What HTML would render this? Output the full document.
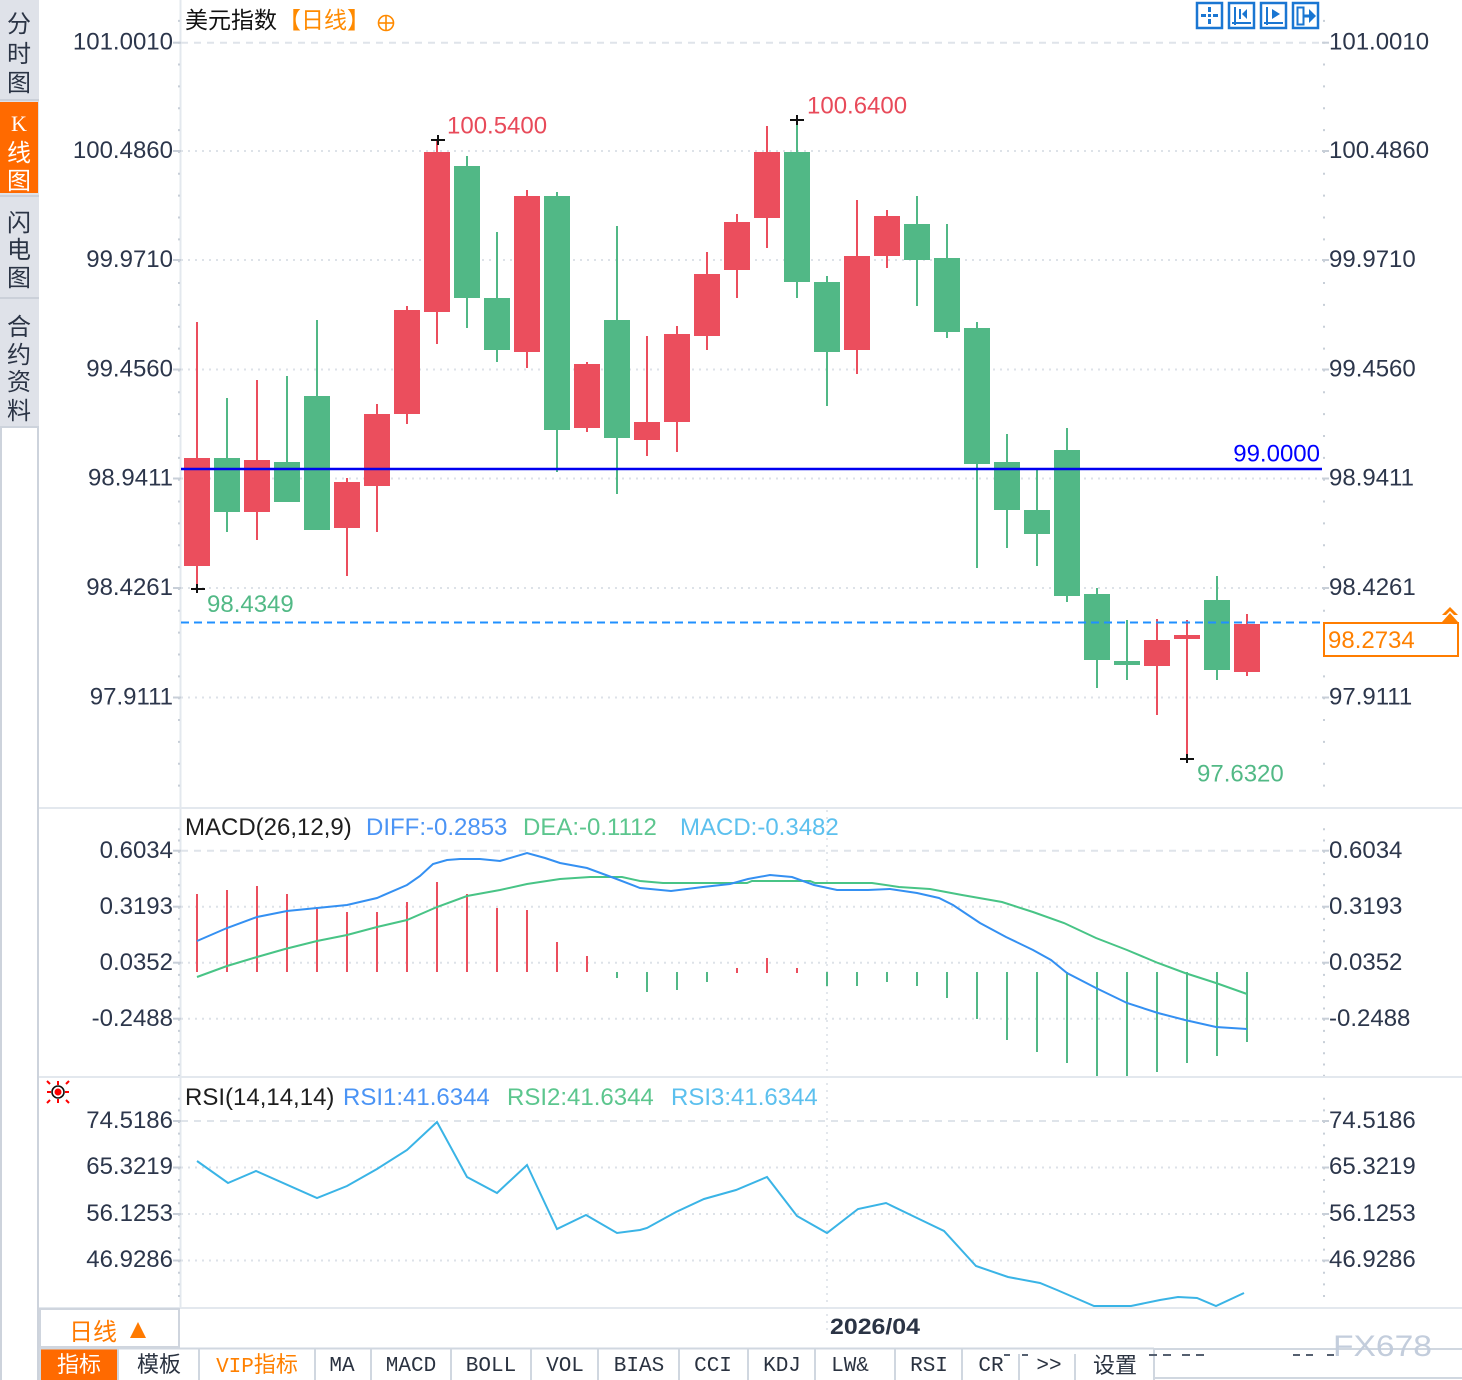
<!DOCTYPE html>
<html>
<head>
<meta charset="utf-8">
<style>
html,body{margin:0;padding:0;background:#fff;}
body{width:1462px;height:1380px;overflow:hidden;position:relative;}
svg{position:absolute;left:0;top:0;}
.ax{font-family:"Liberation Sans","Noto Sans CJK SC",sans-serif;font-size:24px;fill:#2c364b;}
.cj{font-family:"Liberation Sans","Noto Sans CJK SC",sans-serif;}
.mono{font-family:"Liberation Mono","Noto Sans CJK SC",monospace;font-size:21px;fill:#2a3240;}
</style>
</head>
<body>
<svg width="1462" height="1380" viewBox="0 0 1462 1380" xmlns="http://www.w3.org/2000/svg">
<rect x="0" y="0" width="1462" height="1380" fill="#fff"/>

<!-- Sidebar -->
<rect x="0" y="0" width="39" height="427" fill="#dfe2e9"/>
<rect x="0" y="102" width="38" height="91" fill="#ff6a00"/>
<line x1="0" y1="100" x2="39" y2="100" stroke="#cbd0d9" stroke-width="2"/>
<line x1="0" y1="196" x2="39" y2="196" stroke="#cbd0d9" stroke-width="2"/>
<line x1="0" y1="298" x2="39" y2="298" stroke="#cbd0d9" stroke-width="2"/>
<rect x="1" y="427" width="37" height="955" fill="#fff" stroke="#cdd3dc" stroke-width="2"/>
<g class="cj" font-size="24" fill="#2b3445" text-anchor="middle">
<text x="19" y="32">分</text>
<text x="19" y="62">时</text>
<text x="19" y="91">图</text>
<text x="19" y="131" fill="#fff" font-family="Liberation Serif, serif" font-size="22">K</text>
<text x="19" y="161" fill="#fff">线</text>
<text x="19" y="189" fill="#fff">图</text>
<text x="19" y="231">闪</text>
<text x="19" y="258">电</text>
<text x="19" y="286">图</text>
<text x="19" y="335">合</text>
<text x="19" y="363">约</text>
<text x="19" y="390">资</text>
<text x="19" y="419">料</text>
</g>

<!-- Frame lines -->
<line x1="180.5" y1="0" x2="180.5" y2="1308" stroke="#e3e8ee" stroke-width="2"/>
<line x1="39" y1="808" x2="1462" y2="808" stroke="#e3e8ee" stroke-width="2"/>
<line x1="39" y1="1077" x2="1462" y2="1077" stroke="#e3e8ee" stroke-width="2"/>
<line x1="39" y1="1308" x2="1462" y2="1308" stroke="#e3e8ee" stroke-width="2"/>

<!-- Vertical time grid -->
<line x1="827" y1="810" x2="827" y2="1332" stroke="#e3e7ec" stroke-width="2" stroke-dasharray="2 5"/>

<!-- Main gridlines -->
<line x1="181" y1="42.7" x2="1322" y2="42.7" stroke="#dfe4ea" stroke-width="2" stroke-dasharray="7 6"/>
<g stroke="#dde2e8" stroke-width="2" stroke-dasharray="2 5">
<line x1="181" y1="151" x2="1322" y2="151"/>
<line x1="181" y1="260" x2="1322" y2="260"/>
<line x1="181" y1="369.5" x2="1322" y2="369.5"/>
<line x1="181" y1="478.5" x2="1322" y2="478.5"/>
<line x1="181" y1="588" x2="1322" y2="588"/>
<line x1="181" y1="697.5" x2="1322" y2="697.5"/>
</g>
<!-- ticks main -->
<line x1="179" y1="19.85" x2="179" y2="806" stroke="#c8cfd8" stroke-width="2" stroke-dasharray="2 19.85"/>
<line x1="1324" y1="19.85" x2="1324" y2="806" stroke="#c8cfd8" stroke-width="2" stroke-dasharray="2 19.85"/>
<g stroke="#c8cfd8" stroke-width="2">
<line x1="173" y1="42.7" x2="181" y2="42.7"/><line x1="173" y1="151" x2="181" y2="151"/><line x1="173" y1="260" x2="181" y2="260"/><line x1="173" y1="369.5" x2="181" y2="369.5"/><line x1="173" y1="478.5" x2="181" y2="478.5"/><line x1="173" y1="588" x2="181" y2="588"/><line x1="173" y1="697.5" x2="181" y2="697.5"/>
<line x1="1322" y1="42.7" x2="1329" y2="42.7"/><line x1="1322" y1="151" x2="1329" y2="151"/><line x1="1322" y1="260" x2="1329" y2="260"/><line x1="1322" y1="369.5" x2="1329" y2="369.5"/><line x1="1322" y1="478.5" x2="1329" y2="478.5"/><line x1="1322" y1="588" x2="1329" y2="588"/><line x1="1322" y1="697.5" x2="1329" y2="697.5"/>
</g>

<!-- Main axis labels -->
<g class="ax" text-anchor="end">
<text x="173" y="49.5">101.0010</text>
<text x="173" y="158">100.4860</text>
<text x="173" y="267">99.9710</text>
<text x="173" y="376.5">99.4560</text>
<text x="173" y="485.5">98.9411</text>
<text x="173" y="595">98.4261</text>
<text x="173" y="704.5">97.9111</text>
</g>
<g class="ax">
<text x="1329" y="49.5">101.0010</text>
<text x="1329" y="158">100.4860</text>
<text x="1329" y="267">99.9710</text>
<text x="1329" y="376.5">99.4560</text>
<text x="1329" y="485.5">98.9411</text>
<text x="1329" y="595">98.4261</text>
<text x="1329" y="704.5">97.9111</text>
</g>

<!-- Title -->
<text x="185" y="28" class="cj" font-size="23" fill="#111">美元指数</text>
<text x="278" y="28" class="cj" font-size="23" fill="#ff8a00">【日线】</text>
<g stroke="#ff8a00" stroke-width="1.6" fill="none">
<circle cx="386" cy="23" r="7.5"/>
<line x1="378.5" y1="23" x2="393.5" y2="23"/>
<line x1="386" y1="15.5" x2="386" y2="30.5"/>
</g>

<!-- Top-right icons -->
<g stroke="#1a76d2" stroke-width="2.5" fill="none">
<rect x="1197" y="3" width="25" height="25"/>
<rect x="1229" y="3" width="25" height="25"/>
<rect x="1261" y="3" width="25" height="25"/>
<rect x="1293" y="3" width="25" height="25"/>
</g>
<g fill="#1a76d2">
<rect x="1201" y="14" width="5" height="3"/><rect x="1213" y="14" width="5" height="3"/><rect x="1208" y="7" width="3" height="5"/><rect x="1208" y="19" width="3" height="5"/><rect x="1208" y="14" width="3" height="3"/>
<rect x="1234" y="7" width="2" height="18"/><rect x="1232" y="22" width="19" height="2"/><rect x="1239" y="9" width="2" height="10"/><polygon points="1247,9 1242,14 1247,19"/>
<rect x="1266" y="7" width="2" height="18"/><rect x="1264" y="22" width="19" height="2"/><polygon points="1272,9 1280,14 1272,19"/>
<rect x="1304" y="14.5" width="7" height="3"/><polygon points="1309,9 1316,16 1309,23"/>
</g>
<rect x="1297.5" y="7.5" width="6" height="17" fill="none" stroke="#1a76d2" stroke-width="2"/>

<!-- Candles -->
<g stroke-width="2">
<g stroke="#eb4e5d" fill="#eb4e5d">
<line x1="197" y1="322" x2="197" y2="589"/><rect x="184" y="458" width="26" height="108" stroke="none"/>
<line x1="257" y1="380" x2="257" y2="540"/><rect x="244" y="460" width="26" height="52" stroke="none"/>
<line x1="347" y1="478" x2="347" y2="576"/><rect x="334" y="482" width="26" height="46" stroke="none"/>
<line x1="377" y1="404" x2="377" y2="532"/><rect x="364" y="414" width="26" height="72" stroke="none"/>
<line x1="407" y1="306" x2="407" y2="424"/><rect x="394" y="310" width="26" height="104" stroke="none"/>
<line x1="437" y1="140" x2="437" y2="344"/><rect x="424" y="152" width="26" height="160" stroke="none"/>
<line x1="527" y1="190" x2="527" y2="368"/><rect x="514" y="196" width="26" height="156" stroke="none"/>
<line x1="587" y1="362" x2="587" y2="432"/><rect x="574" y="364" width="26" height="64" stroke="none"/>
<line x1="647" y1="336" x2="647" y2="456"/><rect x="634" y="422" width="26" height="18" stroke="none"/>
<line x1="677" y1="326" x2="677" y2="452"/><rect x="664" y="334" width="26" height="88" stroke="none"/>
<line x1="707" y1="252" x2="707" y2="350"/><rect x="694" y="274" width="26" height="62" stroke="none"/>
<line x1="737" y1="214" x2="737" y2="298"/><rect x="724" y="222" width="26" height="48" stroke="none"/>
<line x1="767" y1="126" x2="767" y2="248"/><rect x="754" y="152" width="26" height="66" stroke="none"/>
<line x1="857" y1="200" x2="857" y2="374"/><rect x="844" y="256" width="26" height="94" stroke="none"/>
<line x1="887" y1="210" x2="887" y2="268"/><rect x="874" y="216" width="26" height="40" stroke="none"/>
<line x1="1157" y1="619" x2="1157" y2="715"/><rect x="1144" y="640" width="26" height="26" stroke="none"/>
<line x1="1187" y1="620" x2="1187" y2="759"/><rect x="1174" y="635" width="26" height="4" stroke="none"/>
<line x1="1247" y1="614" x2="1247" y2="676"/><rect x="1234" y="624" width="26" height="48" stroke="none"/>
</g>
<g stroke="#51b886" fill="#51b886">
<line x1="227" y1="398" x2="227" y2="532"/><rect x="214" y="458" width="26" height="54" stroke="none"/>
<line x1="287" y1="376" x2="287" y2="502"/><rect x="274" y="462" width="26" height="40" stroke="none"/>
<line x1="317" y1="320" x2="317" y2="530"/><rect x="304" y="396" width="26" height="134" stroke="none"/>
<line x1="467" y1="156" x2="467" y2="328"/><rect x="454" y="166" width="26" height="132" stroke="none"/>
<line x1="497" y1="232" x2="497" y2="362"/><rect x="484" y="298" width="26" height="52" stroke="none"/>
<line x1="557" y1="192" x2="557" y2="472"/><rect x="544" y="196" width="26" height="234" stroke="none"/>
<line x1="617" y1="226" x2="617" y2="494"/><rect x="604" y="320" width="26" height="118" stroke="none"/>
<line x1="797" y1="120" x2="797" y2="298"/><rect x="784" y="152" width="26" height="130" stroke="none"/>
<line x1="827" y1="276" x2="827" y2="406"/><rect x="814" y="282" width="26" height="70" stroke="none"/>
<line x1="917" y1="196" x2="917" y2="306"/><rect x="904" y="224" width="26" height="36" stroke="none"/>
<line x1="947" y1="224" x2="947" y2="338"/><rect x="934" y="258" width="26" height="74" stroke="none"/>
<line x1="977" y1="322" x2="977" y2="568"/><rect x="964" y="328" width="26" height="136" stroke="none"/>
<line x1="1007" y1="434" x2="1007" y2="548"/><rect x="994" y="462" width="26" height="48" stroke="none"/>
<line x1="1037" y1="468" x2="1037" y2="566"/><rect x="1024" y="510" width="26" height="24" stroke="none"/>
<line x1="1067" y1="428" x2="1067" y2="602"/><rect x="1054" y="450" width="26" height="146" stroke="none"/>
<line x1="1097" y1="588" x2="1097" y2="688"/><rect x="1084" y="594" width="26" height="66" stroke="none"/>
<line x1="1127" y1="620" x2="1127" y2="680"/><rect x="1114" y="661" width="26" height="4" stroke="none"/>
<line x1="1217" y1="576" x2="1217" y2="680"/><rect x="1204" y="600" width="26" height="70" stroke="none"/>
</g>
</g>

<!-- crosshair markers -->
<g stroke="#111" stroke-width="2">
<line x1="191" y1="589" x2="205" y2="589"/><line x1="197" y1="584" x2="197" y2="593"/>
<line x1="431" y1="140" x2="445" y2="140"/><line x1="438" y1="135" x2="438" y2="145"/>
<line x1="790" y1="120" x2="804" y2="120"/><line x1="797" y1="115" x2="797" y2="125"/>
<line x1="1180" y1="759" x2="1194" y2="759"/><line x1="1187" y1="754" x2="1187" y2="763"/>
</g>
<g class="ax">
<text x="447" y="133.5" style="fill:#e84a5a">100.5400</text>
<text x="807" y="113.5" style="fill:#e84a5a">100.6400</text>
<text x="207" y="612" style="fill:#52b986">98.4349</text>
<text x="1197" y="781.5" style="fill:#52b986">97.6320</text>
</g>

<!-- 99.0000 line -->
<line x1="181" y1="469" x2="1322" y2="469" stroke="#0000f0" stroke-width="2.5"/>
<text x="1320" y="461.5" class="ax" text-anchor="end" style="fill:#0000ff">99.0000</text>

<!-- current price -->
<line x1="181" y1="622.5" x2="1322" y2="622.5" stroke="#2090ff" stroke-width="2" stroke-dasharray="8 5"/>
<rect x="1324" y="623" width="134" height="33" fill="#fff" stroke="#ff7d00" stroke-width="2"/>
<text x="1328" y="648" class="ax" style="fill:#ff8000">98.2734</text>
<g fill="#ff8000">
<polygon points="1442,615 1450,607 1458,615 1454,615 1450,611 1446,615"/>
<polygon points="1442,622 1450,613 1458,622"/>
</g>

<!-- MACD panel -->
<line x1="181" y1="850.7" x2="1322" y2="850.7" stroke="#dfe4ea" stroke-width="2" stroke-dasharray="7 6"/>
<g stroke="#dde2e8" stroke-width="2" stroke-dasharray="2 5">
<line x1="181" y1="906.7" x2="1322" y2="906.7"/>
<line x1="181" y1="962.7" x2="1322" y2="962.7"/>
<line x1="181" y1="1018.7" x2="1322" y2="1018.7"/>
</g>
<line x1="179" y1="828.3" x2="179" y2="1076" stroke="#c8cfd8" stroke-width="2" stroke-dasharray="2 9.2"/>
<line x1="1324" y1="828.3" x2="1324" y2="1076" stroke="#c8cfd8" stroke-width="2" stroke-dasharray="2 9.2"/>
<g stroke="#c8cfd8" stroke-width="2">
<line x1="173" y1="850.7" x2="181" y2="850.7"/><line x1="173" y1="906.7" x2="181" y2="906.7"/><line x1="173" y1="962.7" x2="181" y2="962.7"/><line x1="173" y1="1018.7" x2="181" y2="1018.7"/>
<line x1="1322" y1="850.7" x2="1329" y2="850.7"/><line x1="1322" y1="906.7" x2="1329" y2="906.7"/><line x1="1322" y1="962.7" x2="1329" y2="962.7"/><line x1="1322" y1="1018.7" x2="1329" y2="1018.7"/>
</g>
<g class="ax" text-anchor="end">
<text x="173" y="858">0.6034</text>
<text x="173" y="914">0.3193</text>
<text x="173" y="970">0.0352</text>
<text x="173" y="1026">-0.2488</text>
</g>
<g class="ax">
<text x="1329" y="858">0.6034</text>
<text x="1329" y="914">0.3193</text>
<text x="1329" y="970">0.0352</text>
<text x="1329" y="1026">-0.2488</text>
</g>
<g class="ax">
<text x="185" y="835" style="fill:#1e1e1e">MACD(26,12,9)</text>
<text x="366" y="835" style="fill:#4b94f5">DIFF:-0.2853</text>
<text x="523" y="835" style="fill:#5cc68e">DEA:-0.1112</text>
<text x="680" y="835" style="fill:#5cc0ee">MACD:-0.3482</text>
</g>
<!-- MACD bars -->
<g stroke-width="2">
<g stroke="#eb4e5d">
<line x1="197" y1="972" x2="197" y2="894"/><line x1="227" y1="972" x2="227" y2="890"/><line x1="257" y1="972" x2="257" y2="886"/><line x1="287" y1="972" x2="287" y2="894"/><line x1="317" y1="972" x2="317" y2="907"/><line x1="347" y1="972" x2="347" y2="912"/><line x1="377" y1="972" x2="377" y2="912"/><line x1="407" y1="972" x2="407" y2="902"/><line x1="437" y1="972" x2="437" y2="882"/><line x1="467" y1="972" x2="467" y2="894"/><line x1="497" y1="972" x2="497" y2="908"/><line x1="527" y1="972" x2="527" y2="910"/><line x1="557" y1="972" x2="557" y2="942"/><line x1="587" y1="972" x2="587" y2="956"/><line x1="737" y1="973" x2="737" y2="968"/><line x1="767" y1="973" x2="767" y2="958"/><line x1="797" y1="973" x2="797" y2="968"/>
</g>
<g stroke="#51b886">
<line x1="617" y1="972" x2="617" y2="978"/><line x1="647" y1="972" x2="647" y2="992"/><line x1="677" y1="972" x2="677" y2="990"/><line x1="707" y1="972" x2="707" y2="982"/><line x1="827" y1="972" x2="827" y2="986"/><line x1="857" y1="972" x2="857" y2="986"/><line x1="887" y1="972" x2="887" y2="982"/><line x1="917" y1="972" x2="917" y2="986"/><line x1="947" y1="972" x2="947" y2="998"/><line x1="977" y1="972" x2="977" y2="1019"/><line x1="1007" y1="972" x2="1007" y2="1040"/><line x1="1037" y1="972" x2="1037" y2="1052"/><line x1="1067" y1="972" x2="1067" y2="1063"/><line x1="1097" y1="972" x2="1097" y2="1076"/><line x1="1127" y1="972" x2="1127" y2="1076"/><line x1="1157" y1="972" x2="1157" y2="1072"/><line x1="1187" y1="972" x2="1187" y2="1063"/><line x1="1217" y1="972" x2="1217" y2="1056"/><line x1="1247" y1="972" x2="1247" y2="1042"/>
</g>
</g>
<polyline fill="none" stroke="#48c486" stroke-width="2" points="197,977 227,966 257,957 285,949 317,941 347,935 377,927 407,920 437,907 467,896 500,890 527,884 560,879 590,877 622,877 640,881 663,883 747,883 752,881 810,881 815,883 872,883 899,887 930,889 962,895 1002,902 1033,912 1064,923 1096,938 1127,950 1158,963 1185,973 1216,983 1247,994"/>
<polyline fill="none" stroke="#3490f2" stroke-width="2" points="197,941 227,928 257,917 287,911 317,908 347,905 377,898 407,885 420,876 433,864 447,860 460,859 480,859 500,861 527,853 545,858 560,863 587,868 614,878 640,888 671,891 703,887 730,884 748,879 770,875 792,877 814,885 837,890 868,890 890,889 917,893 939,898 953,905 980,923 1006,937 1033,950 1051,960 1067,973 1096,988 1127,1003 1158,1013 1185,1020 1216,1027 1247,1029"/>

<!-- RSI panel -->
<g>
<line x1="51" y1="1092" x2="47" y2="1092" stroke="#f00" stroke-width="2"/>
<line x1="65" y1="1092" x2="69" y2="1092" stroke="#f00" stroke-width="2"/>
<line x1="58" y1="1085" x2="58" y2="1081" stroke="#f00" stroke-width="2"/>
<line x1="58" y1="1099" x2="58" y2="1103" stroke="#f00" stroke-width="2"/>
<line x1="50" y1="1084" x2="47" y2="1081" stroke="#f00" stroke-width="2"/>
<line x1="66" y1="1084" x2="69" y2="1081" stroke="#f00" stroke-width="2"/>
<line x1="50" y1="1100" x2="47" y2="1103" stroke="#f00" stroke-width="2"/>
<line x1="66" y1="1100" x2="69" y2="1103" stroke="#f00" stroke-width="2"/>
<circle cx="58" cy="1092" r="6" fill="#fff" stroke="#111" stroke-width="1.6"/>
<circle cx="58" cy="1092" r="3.5" fill="#f00"/>
</g>
<line x1="181" y1="1121" x2="1322" y2="1121" stroke="#dfe4ea" stroke-width="2" stroke-dasharray="7 6"/>
<g stroke="#dde2e8" stroke-width="2" stroke-dasharray="2 5">
<line x1="181" y1="1167.5" x2="1322" y2="1167.5"/>
<line x1="181" y1="1214" x2="1322" y2="1214"/>
<line x1="181" y1="1260.5" x2="1322" y2="1260.5"/>
</g>
<line x1="179" y1="1097.8" x2="179" y2="1306" stroke="#c8cfd8" stroke-width="2" stroke-dasharray="2 9.6"/>
<line x1="1324" y1="1097.8" x2="1324" y2="1306" stroke="#c8cfd8" stroke-width="2" stroke-dasharray="2 9.6"/>
<g stroke="#c8cfd8" stroke-width="2">
<line x1="173" y1="1121" x2="181" y2="1121"/><line x1="173" y1="1167.5" x2="181" y2="1167.5"/><line x1="173" y1="1214" x2="181" y2="1214"/><line x1="173" y1="1260.5" x2="181" y2="1260.5"/>
<line x1="1322" y1="1121" x2="1329" y2="1121"/><line x1="1322" y1="1167.5" x2="1329" y2="1167.5"/><line x1="1322" y1="1214" x2="1329" y2="1214"/><line x1="1322" y1="1260.5" x2="1329" y2="1260.5"/>
</g>
<g class="ax" text-anchor="end">
<text x="173" y="1128">74.5186</text>
<text x="173" y="1174">65.3219</text>
<text x="173" y="1221">56.1253</text>
<text x="173" y="1267">46.9286</text>
</g>
<g class="ax">
<text x="1329" y="1128">74.5186</text>
<text x="1329" y="1174">65.3219</text>
<text x="1329" y="1221">56.1253</text>
<text x="1329" y="1267">46.9286</text>
</g>
<g class="ax">
<text x="185" y="1105" style="fill:#1e1e1e">RSI(14,14,14)</text>
<text x="343" y="1105" style="fill:#4b94f5">RSI1:41.6344</text>
<text x="507" y="1105" style="fill:#5cc68e">RSI2:41.6344</text>
<text x="671" y="1105" style="fill:#5cc0ee">RSI3:41.6344</text>
</g>
<polyline fill="none" stroke="#3ab4e6" stroke-width="2" points="197,1161 228,1183 256,1171 317,1198 347,1186 377,1169 407,1150 437,1122 467,1177 497,1193 527,1165 557,1229 586,1215 617,1233 640,1230 647,1228 676,1212 704,1199 736,1190 767,1177 797,1216 827,1233 858,1209 886,1203 917,1218 944,1231 976,1266 1008,1277 1040,1283 1057,1290 1094,1306 1131,1306 1160,1300 1178,1297 1197,1298 1216,1306 1244,1293"/>

<!-- Date row -->
<rect x="40" y="1309" width="139" height="38" fill="#fff" stroke="#cfd5de" stroke-width="2"/>
<text x="69" y="1340" class="cj" font-size="24" fill="#ff7a00">日线</text>
<polygon points="130,1338 138,1322 146,1338" fill="#ff7a00"/>
<text x="830" y="1334" font-family="Liberation Sans, sans-serif" font-weight="bold" font-size="22" fill="#2b3445" textLength="90" lengthAdjust="spacingAndGlyphs">2026/04</text>

<!-- Toolbar -->
<rect x="40" y="1349" width="78" height="31" fill="#ff6a00"/>
<line x1="40" y1="1348.5" x2="1154" y2="1348.5" stroke="#d0d7e0" stroke-width="2"/>
<line x1="1154" y1="1349" x2="1462" y2="1349" stroke="#d0d7e0" stroke-width="2"/>
<line x1="1154" y1="1378" x2="1462" y2="1378" stroke="#d0d7e0" stroke-width="2"/>
<g stroke="#d0d7e0" stroke-width="2">
<line x1="40" y1="1348" x2="40" y2="1380"/><line x1="118" y1="1348" x2="118" y2="1380"/><line x1="199" y1="1348" x2="199" y2="1380"/><line x1="315" y1="1348" x2="315" y2="1380"/><line x1="371" y1="1348" x2="371" y2="1380"/><line x1="451" y1="1348" x2="451" y2="1380"/><line x1="531" y1="1348" x2="531" y2="1380"/><line x1="598" y1="1348" x2="598" y2="1380"/><line x1="679" y1="1348" x2="679" y2="1380"/><line x1="748" y1="1348" x2="748" y2="1380"/><line x1="815" y1="1348" x2="815" y2="1380"/><line x1="895" y1="1348" x2="895" y2="1380"/><line x1="962" y1="1348" x2="962" y2="1380"/><line x1="1019" y1="1354" x2="1019" y2="1380"/><line x1="1075" y1="1354" x2="1075" y2="1380"/><line x1="1154" y1="1348" x2="1154" y2="1380"/>
</g>
<g class="cj" font-size="22" text-anchor="middle">
<text x="79" y="1372" fill="#fff">指标</text>
<text x="159" y="1372" fill="#2a3240">模板</text>
<text x="1115" y="1373" fill="#2a3240">设置</text>
</g>
<g class="mono" text-anchor="middle">
<text x="257" y="1372" style="fill:#ff8000">VIP<tspan font-family="Noto Sans CJK SC, sans-serif" font-size="22">指标</tspan></text>
<text x="342" y="1371">MA</text>
<text x="411" y="1371">MACD</text>
<text x="491" y="1371">BOLL</text>
<text x="565" y="1371">VOL</text>
<text x="639" y="1371">BIAS</text>
<text x="713" y="1371">CCI</text>
<text x="782" y="1371">KDJ</text>
<text x="850" y="1371">LW&amp;</text>
<text x="929" y="1371">RSI</text>
<text x="991" y="1371">CR</text>
<text x="1049" y="1371">&gt;&gt;</text>
</g>
<g stroke="#556070" stroke-width="2">
<line x1="1004" y1="1355" x2="1010" y2="1355"/><line x1="1022" y1="1355" x2="1028" y2="1355"/>
<line x1="1149" y1="1355" x2="1157" y2="1355"/><line x1="1163" y1="1355" x2="1171" y2="1355"/><line x1="1182" y1="1355" x2="1190" y2="1355"/><line x1="1196" y1="1355" x2="1204" y2="1355"/>
<line x1="1293" y1="1355" x2="1300" y2="1355"/><line x1="1306" y1="1355" x2="1313" y2="1355"/><line x1="1327" y1="1355" x2="1334" y2="1355"/>
</g>
<text x="1333" y="1356" font-family="Liberation Sans, sans-serif" font-size="30" fill="#c3cddc" textLength="99" lengthAdjust="spacingAndGlyphs">FX678</text>
</svg>
</body>
</html>
